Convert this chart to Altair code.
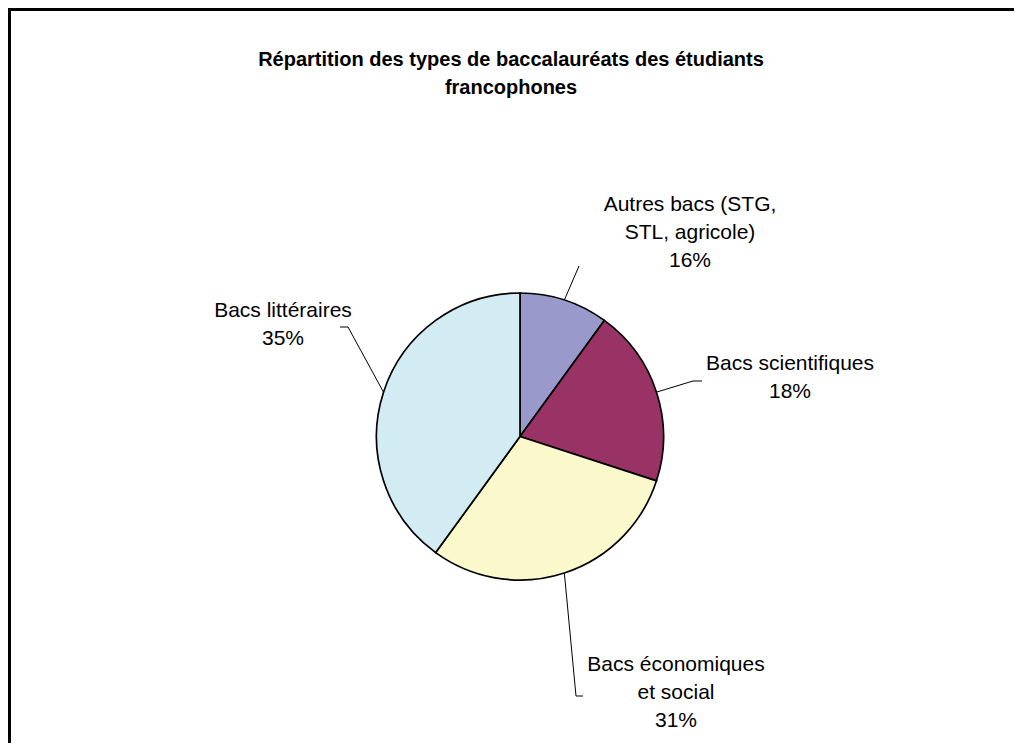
import math
import altair as alt
import pandas as pd

# ---- data ----
categories = [
    "Autres bacs (STG, STL, agricole)",
    "Bacs scientifiques",
    "Bacs économiques et social",
    "Bacs littéraires",
]
slice_shares = [10, 20, 30, 40]          # angular share of each drawn slice
label_lines = [
    ["Autres bacs (STG,", "STL, agricole)"],
    ["Bacs scientifiques"],
    ["Bacs économiques", "et social"],
    ["Bacs littéraires"],
]
label_pct = ["16%", "18%", "31%", "35%"]
title_lines = ["Répartition des types de baccalauréats des étudiants", "francophones"]

# ---- layout / style ----
W, H = 1006, 735
CX, CY, R = 512, 428.5, 143.5
colors = ["#9999CC", "#993366", "#FBF9CC", "#D3ECF3"]
FONT = "Liberation Sans"
# label anchor (centre x, first-line y) and leader elbows (layout, pixels in view)
label_pos = [(682, 197), (782, 356), (668, 657), (275, 303)]
leader_elbow = [[(571, 258)], [(685, 373), (694, 373)], [(568, 688), (575, 688)], [(340, 319), (332, 319)]]

xs = alt.Scale(domain=[0, W], range=[0, W], nice=False, zero=False)
ys = alt.Scale(domain=[0, H], range=[0, H], nice=False, zero=False)

pie_df = pd.DataFrame({"cat": categories, "share": slice_shares, "idx": range(len(categories))})

pie = alt.Chart(pie_df).mark_arc(outerRadius=R, stroke="black", strokeWidth=1.7).encode(
    theta=alt.Theta("share:Q", stack=True),
    order=alt.Order("idx:Q"),
    color=alt.Color("cat:N", scale=alt.Scale(domain=categories, range=colors), legend=None),
    x=alt.value(CX),
    y=alt.value(CY),
)

# leader lines start at each slice's mid-angle on the rim
total = sum(slice_shares)
rows = []
cum = 0
for i, s in enumerate(slice_shares):
    mid = (cum + s / 2) / total * 2 * math.pi
    cum += s
    pts = [(CX + R * math.sin(mid), CY - R * math.cos(mid))] + leader_elbow[i]
    for j, (px, py) in enumerate(pts):
        rows.append({"seg": i, "pt": j, "x": px, "y": py})
lead_df = pd.DataFrame(rows)

leaders = alt.Chart(lead_df).mark_line(color="black", strokeWidth=1).encode(
    x=alt.X("x:Q", scale=xs, axis=None),
    y=alt.Y("y:Q", scale=ys, axis=None),
    detail="seg:N",
    order="pt:Q",
)

lab_df = pd.DataFrame({
    "x": [p[0] for p in label_pos],
    "y": [p[1] for p in label_pos],
    "txt": [lines + [pct] for lines, pct in zip(label_lines, label_pct)],
})
labels = alt.Chart(lab_df).mark_text(
    font=FONT, fontSize=21, lineHeight=28, align="center", baseline="middle", color="black"
).encode(
    x=alt.X("x:Q", scale=xs, axis=None),
    y=alt.Y("y:Q", scale=ys, axis=None),
    text="txt",
)

title_df = pd.DataFrame({"x": [503], "y": [52], "txt": [title_lines]})
title = alt.Chart(title_df).mark_text(
    font=FONT, fontSize=20, fontWeight="bold", lineHeight=28, align="center", baseline="middle", color="black"
).encode(
    x=alt.X("x:Q", scale=xs, axis=None),
    y=alt.Y("y:Q", scale=ys, axis=None),
    text="txt",
)

border_top = alt.Chart(pie_df).mark_rule(color="black", strokeWidth=3).encode(
    x=alt.value(0), x2=alt.value(W), y=alt.value(1.5)
)
border_left = alt.Chart(pie_df).mark_rule(color="black", strokeWidth=3).encode(
    x=alt.value(1.5), y=alt.value(0), y2=alt.value(H)
)

chart = alt.layer(pie, leaders, labels, title, border_top, border_left).properties(
    width=W, height=H, padding=0, autosize="none", background="white"
).configure_view(stroke=None)

chart.save("out.html", embed_options={"renderer": "svg", "actions": False})
